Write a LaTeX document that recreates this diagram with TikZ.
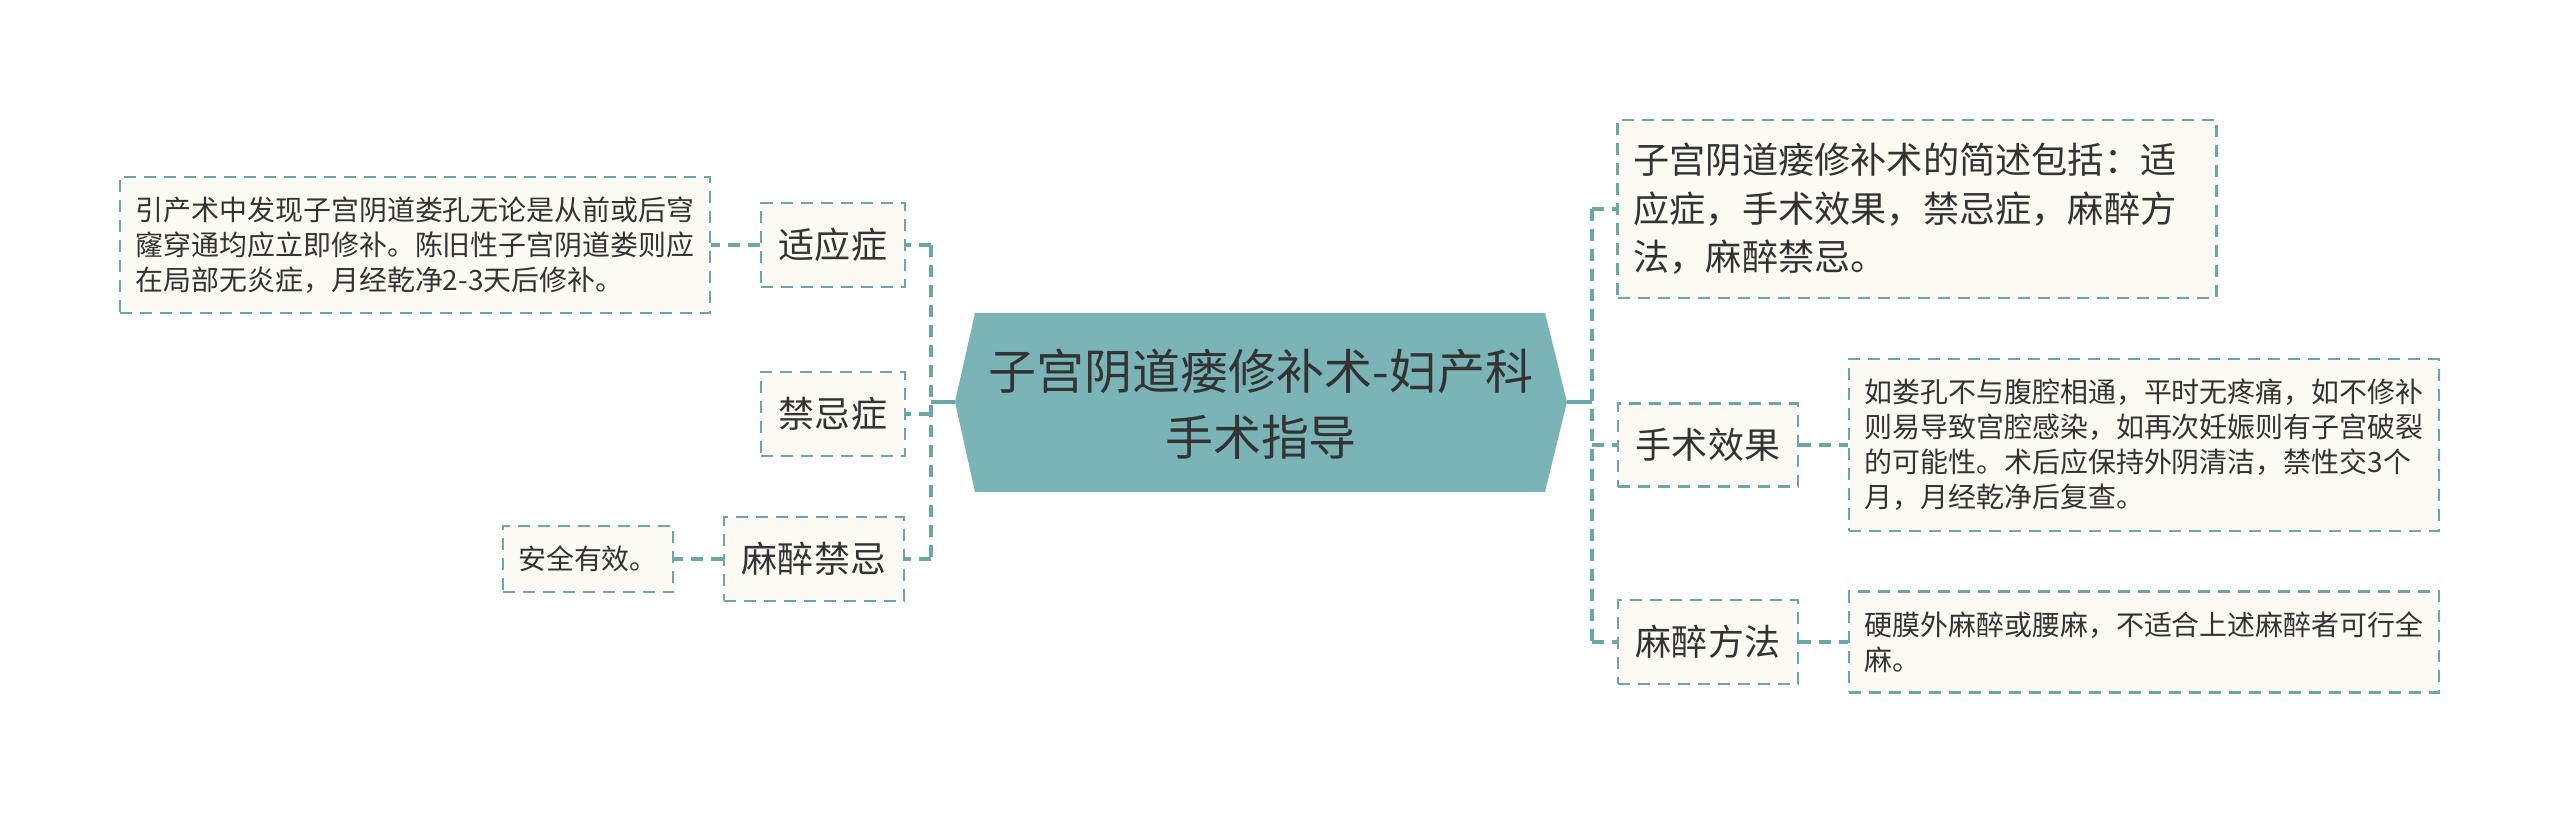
\documentclass[tikz,border=0pt]{standalone}
\usepackage{fontspec}
\setmainfont{Noto Sans CJK SC}
\usepackage{tikz}
\definecolor{linecol}{RGB}{106,168,168}
\definecolor{rootcol}{RGB}{122,180,182}
\definecolor{boxfill}{RGB}{252,250,242}
\definecolor{txtcol}{RGB}{51,51,51}

\begin{document}
\begin{tikzpicture}[x=0.02cm,y=-0.02cm,
  link/.style={draw=linecol,line width=1.8pt,dash pattern=on 0.24cm off 0.16cm},
  stem/.style={draw=linecol,line width=2.2pt},
  box/.style={draw=linecol,line width=1.3pt,dash pattern=on 0.24cm off 0.16cm,fill=boxfill,text=txtcol},
  lbl/.style={box,font=\fontsize{20.5}{27.3}\selectfont,inner xsep=0.36cm,inner ysep=0.5cm},
  leaf/.style={box,align=left,font=\fontsize{15.9}{19.9}\selectfont,inner xsep=0.31cm,inner ysep=0.4cm}]
\useasboundingbox (0,0) rectangle (2560,813);
% centre
\fill[rootcol] (955,402) -- (975,313) -- (1545,313) -- (1567,402) -- (1545,492) -- (975,492) -- cycle;
\node[align=center,text=txtcol,font=\fontsize{27.3}{37.6}\selectfont] (root) at (1261,404) {子宫阴道瘘修补术-妇产科\\手术指导};
\coordinate (rootL) at (955,402);
\coordinate (rootR) at (1567,402);
\coordinate (jl) at (931,402);
\coordinate (jr) at (1592,402);
% left
\node[lbl] (syz) at (833,245) {适应症};
\node[lbl] (jjz) at (833,414) {禁忌症};
\node[lbl] (mzjj) at (814,559) {麻醉禁忌};
\node[leaf] (syzt) at (415,245) {引产术中发现子宫阴道娄孔无论是从前或后穹\\窿穿通均应立即修补。陈旧性子宫阴道娄则应\\在局部无炎症，月经乾净2-3天后修补。};
\node[leaf] (mzjjt) at (588,559) {安全有效。};
% right
\node[box,align=left,text width=11.34cm,font=\fontsize{20.6}{27.6}\selectfont,inner xsep=0.32cm,inner ysep=0.47cm] (jsh) at (1917,209) {子宫阴道瘘修补术的简述包括：适\\应症，手术效果，禁忌症，麻醉方\\法，麻醉禁忌。};
\node[lbl] (ssxg) at (1708,445) {手术效果};
\node[lbl] (mzff) at (1708,642) {麻醉方法};
\node[leaf] (ssxgt) at (2144,445) {如娄孔不与腹腔相通，平时无疼痛，如不修补\\则易导致宫腔感染，如再次妊娠则有子宫破裂\\的可能性。术后应保持外阴清洁，禁性交3个\\月，月经乾净后复查。};
\node[leaf] (mzfft) at (2144,642) {硬膜外麻醉或腰麻，不适合上述麻醉者可行全\\麻。};
% connectors
\draw[stem] (rootL) -- (jl);
\draw[stem] (rootR) -- (jr);
\draw[link] (jl |- syz.east) -- (jl |- mzjj.east);
\foreach \n in {syz,jjz,mzjj} \draw[link] (jl |- \n.east) -- (\n.east);
\draw[link] (jr |- jsh.west) -- (jr |- mzff.west);
\foreach \n in {jsh,ssxg,mzff} \draw[link] (jr |- \n.west) -- (\n.west);
\draw[link] (syz.west) -- (syzt.east);
\draw[link] (mzjj.west) -- (mzjjt.east);
\draw[link] (ssxg.east) -- (ssxgt.west);
\draw[link] (mzff.east) -- (mzfft.west);
\end{tikzpicture}
\end{document}
